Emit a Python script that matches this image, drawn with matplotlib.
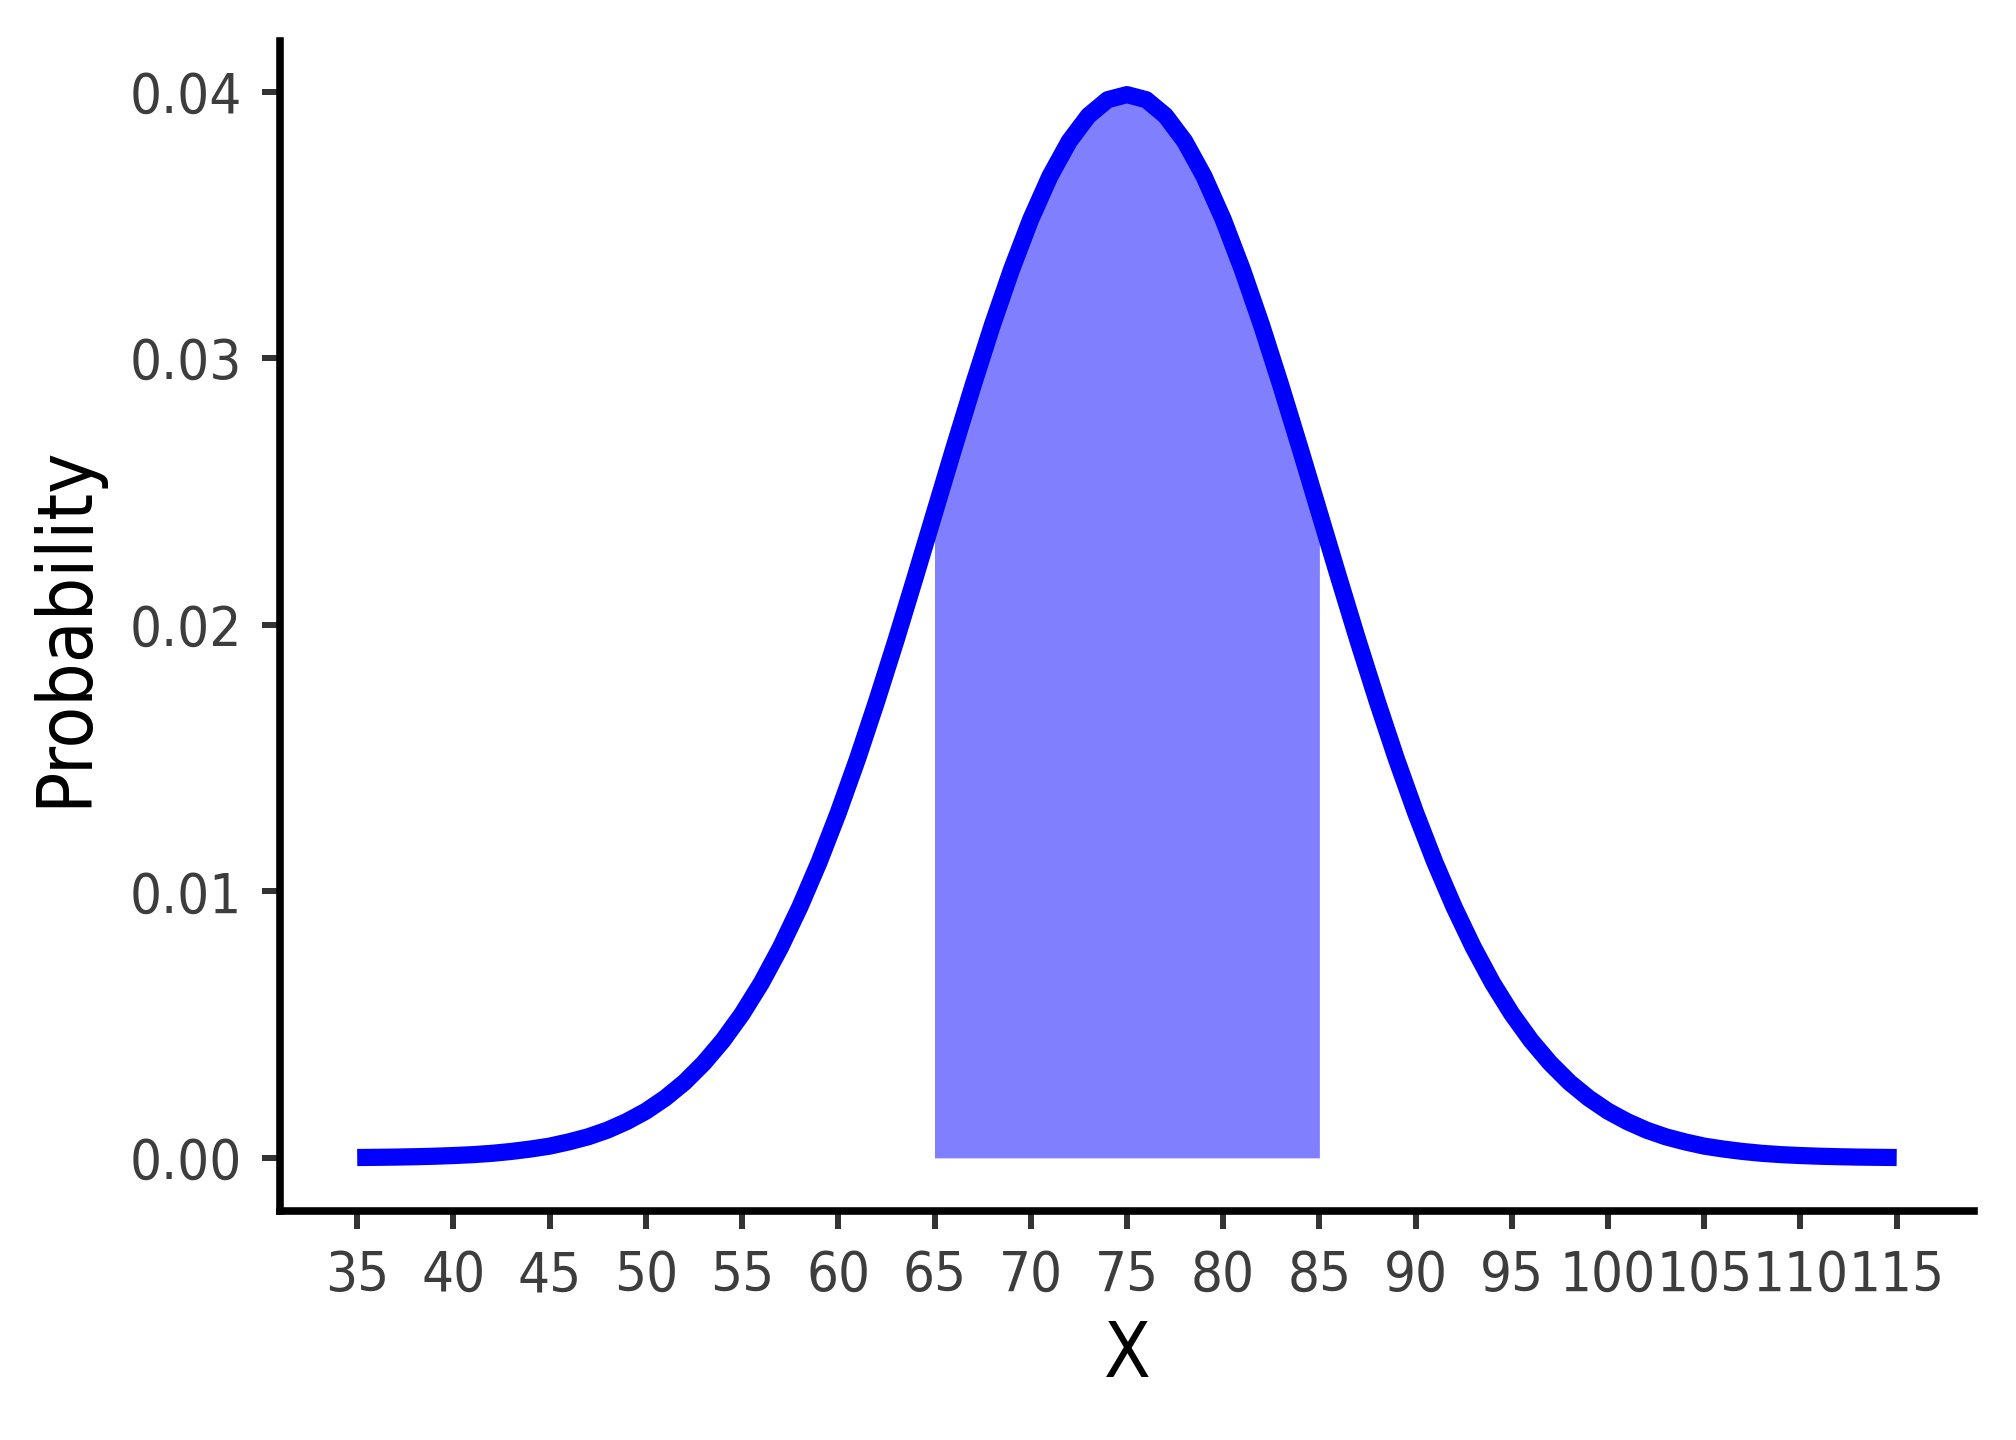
import matplotlib
matplotlib.use("Agg")
import matplotlib.pyplot as plt
import matplotlib.font_manager as fm

# density of X, one point per unit from 35 to 115
x_vals = list(range(35, 116))
density = [
    0.000013, 0.000020, 0.000029, 0.000043, 0.000061, 0.000087, 0.00012, 0.00017, 0.00024, 0.00033,
    0.00044, 0.00060, 0.00079, 0.00104, 0.00136, 0.00175, 0.00224, 0.00283, 0.00355, 0.00440,
    0.00540, 0.00656, 0.00790, 0.00941, 0.01109, 0.01295, 0.01497, 0.01714, 0.01942, 0.02179,
    0.02420, 0.02661, 0.02897, 0.03123, 0.03332, 0.03521, 0.03683, 0.03814, 0.03910, 0.03970,
    0.03989,
    0.03970, 0.03910, 0.03814, 0.03683, 0.03521, 0.03332, 0.03123, 0.02897, 0.02661, 0.02420,
    0.02179, 0.01942, 0.01714, 0.01497, 0.01295, 0.01109, 0.00941, 0.00790, 0.00656, 0.00540,
    0.00440, 0.00355, 0.00283, 0.00224, 0.00175, 0.00136, 0.00104, 0.00079, 0.00060, 0.00044,
    0.00033, 0.00024, 0.00017, 0.00012, 0.000087, 0.000061, 0.000043, 0.000029, 0.000020, 0.000013,
]
shade_from, shade_to = 65, 85
x_ticks = list(range(35, 120, 5))
y_ticks = [0.00, 0.01, 0.02, 0.03, 0.04]

# look for a narrow face, the reference uses a condensed sans
fonts = fm.fontManager.ttflist
narrow = [f for f in fonts if ('Narrow' in f.name or 'Condensed' in f.name
                              or f.stretch in ('condensed', 'semi-condensed', 600, 700))
          and f.style == 'normal' and f.weight in (400, 'normal', 'regular')]
if narrow:
    pick = sorted(narrow, key=lambda f: (f.name != 'DejaVu Sans', f.name))[0]
    plt.rcParams['font.family'] = [pick.name, 'DejaVu Sans']
    plt.rcParams['font.stretch'] = 'condensed'
    tick_size = 14
else:
    plt.rcParams['font.family'] = ['Roboto', 'DejaVu Sans']
    tick_size = 13

fig = plt.figure(figsize=(7, 5), dpi=288)
ax = fig.add_axes([0.139, 0.159, 0.840, 0.8125])

sx = [x for x in x_vals if shade_from <= x <= shade_to]
sy = [d for x, d in zip(x_vals, density) if shade_from <= x <= shade_to]
ax.fill_between(sx, 0, sy, color='#8080ff', linewidth=0)
ax.plot(x_vals, density, color='#0000ff', lw=4.3, solid_capstyle='butt')

ax.set_xlim(31, 119)
ax.set_ylim(-0.001995, 0.0419)
ax.set_xticks(x_ticks)
ax.set_yticks(y_ticks)
ax.set_yticklabels([f"{v:.2f}" for v in y_ticks])

for s in ['top', 'right']:
    ax.spines[s].set_visible(False)
for s in ['left', 'bottom']:
    ax.spines[s].set_linewidth(1.9)
ax.tick_params(length=4.5, width=1.5, color='#333333', labelcolor='#3d3d3d',
               labelsize=tick_size, pad=5)

ax.set_xlabel("X", fontsize=19, labelpad=4)
ax.set_ylabel("Probability", fontsize=19, labelpad=7)

fig.savefig("out.png", dpi=288)
